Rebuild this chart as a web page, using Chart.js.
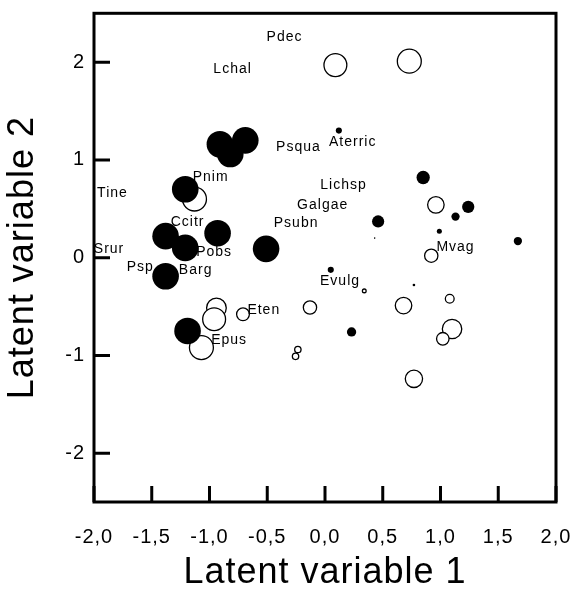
<!DOCTYPE html>
<html>
<head>
<meta charset="utf-8">
<script src="https://cdn.jsdelivr.net/npm/chart.js@4.4.0/dist/chart.umd.min.js"></script>
<style>
  html, body { margin: 0; padding: 0; background: #fff; }
  #wrap { width: 570px; height: 591px; }
</style>
</head>
<body>
<div id="wrap"><canvas id="chartLV" width="570" height="591"></canvas></div>
<script>
// Gráfico de variables latentes: círculos llenos / vacíos + nombres de especies

const xTicks = [-2, -1.5, -1, -0.5, 0, 0.5, 1, 1.5, 2];
const xTickLabels = ["-2,0", "-1,5", "-1,0", "-0,5", "0,0", "0,5", "1,0", "1,5", "2,0"];
const yTicks = [-2, -1, 0, 1, 2];
const yTickLabels = ["-2", "-1", "0", "1", "2"];

// círculos llenos (tamaño relativo, 1 = el más grande)
const filledX = [-0.91, -0.69, -0.82, -1.21, -1.38, -0.93, -1.21, -0.51, -1.38, -1.19,
                 0.12, 0.85, 1.24, 1.13, 0.46, 0.99, 0.43, 1.67, 0.05, 0.77, 0.23];
const filledY = [1.16, 1.2, 1.06, 0.7, 0.22, 0.25, 0.1, 0.09, -0.19, -0.75,
                 1.3, 0.82, 0.52, 0.42, 0.37, 0.27, 0.2, 0.17, -0.125, -0.28, -0.76];
const filledSize = [1, 1, 1, 1, 1, 1, 1, 1, 1, 1,
                    0.23, 0.5, 0.46, 0.31, 0.46, 0.19, 0.06, 0.31, 0.23, 0.1, 0.35];

// círculos vacíos
const openX = [0.09, 0.73, -1.13, -0.94, -0.96, -0.71, -0.13, -1.07, -0.235, -0.255,
               0.96, 0.92, 0.34, 0.68, 1.08, 1.1, 1.02, 0.77];
const openY = [1.97, 2.01, 0.6, -0.515, -0.63, -0.58, -0.51, -0.92, -0.94, -1.01,
               0.54, 0.02, -0.34, -0.49, -0.42, -0.73, -0.83, -1.24];
const openSize = [0.86, 0.9, 0.9, 0.74, 0.86, 0.48, 0.5, 0.9, 0.24, 0.24,
                  0.62, 0.5, 0.14, 0.62, 0.33, 0.73, 0.47, 0.65];

// nombres de especies
const spNames = ["Pdec", "Lchal", "Psqua", "Aterric", "Pnim", "Tine", "Lichsp", "Galgae", "Ccitr",
                 "Psubn", "Srur", "Pobs", "Psp", "Barg", "Mvag", "Evulg", "Eten", "Epus"];
const spX = [-0.35, -0.8, -0.23, 0.24, -0.99, -1.84, 0.16, -0.02, -1.19,
             -0.25, -1.87, -0.96, -1.6, -1.12, 1.13, 0.13, -0.53, -0.83];
const spY = [2.26, 1.93, 1.13, 1.185, 0.82, 0.66, 0.74, 0.535, 0.365,
             0.35, 0.09, 0.055, -0.1, -0.13, 0.11, -0.245, -0.54, -0.84];

const FONT = "'Liberation Sans', Arial, sans-serif";
const R_MAX = 13.3;

function toPoints(xs, ys) {
  return xs.map((x, i) => ({ x, y: ys[i] }));
}

// sin márgenes automáticos de Chart.js por las etiquetas extremas
function noEdgePadding(s) {
  s.paddingTop = 0;
  s.paddingBottom = 0;
  s.paddingLeft = 0;
  s.paddingRight = 0;
}

// marco grueso + marcas hacia adentro
const frameAndTicks = {
  id: "frameAndTicks",
  beforeDraw(chart) {
    chart.ctx.letterSpacing = "1px";
  },
  afterDraw(chart) {
    const { ctx, chartArea: a, scales } = chart;
    ctx.save();
    ctx.strokeStyle = "#000";
    ctx.lineWidth = 3;
    ctx.strokeRect(a.left, a.top, a.right - a.left, a.bottom - a.top);
    ctx.beginPath();
    xTicks.forEach((v) => {
      const px = scales.x.getPixelForValue(v);
      ctx.moveTo(px, a.bottom);
      ctx.lineTo(px, a.bottom - 16);
    });
    yTicks.forEach((v) => {
      const py = scales.y.getPixelForValue(v);
      ctx.moveTo(a.left, py);
      ctx.lineTo(a.left + 16, py);
    });
    ctx.stroke();
    ctx.restore();
  },
};

const speciesLabels = {
  id: "speciesLabels",
  afterDatasetsDraw(chart) {
    const { ctx, scales } = chart;
    ctx.save();
    ctx.fillStyle = "#000";
    ctx.font = "14px " + FONT;
    ctx.letterSpacing = "1px";
    ctx.textAlign = "center";
    ctx.textBaseline = "middle";
    spNames.forEach((name, i) => {
      ctx.fillText(name, scales.x.getPixelForValue(spX[i]), scales.y.getPixelForValue(spY[i]));
    });
    ctx.restore();
  },
};

const ctx = document.getElementById("chartLV").getContext("2d");
new Chart(ctx, {
  type: "scatter",
  data: {
    datasets: [
      {
        label: "llenos",
        data: toPoints(filledX, filledY),
        backgroundColor: "#000",
        borderColor: "#000",
        borderWidth: 0,
        pointRadius: (c) => R_MAX * filledSize[c.dataIndex],
      },
      {
        label: "vacíos",
        data: toPoints(openX, openY),
        backgroundColor: "#fff",
        borderColor: "#000",
        borderWidth: 1.3,
        pointRadius: (c) => R_MAX * openSize[c.dataIndex],
      },
    ],
  },
  options: {
    responsive: false,
    animation: false,
    events: [],
    layout: { padding: { top: 11, right: 14, left: 0, bottom: 0 } },
    plugins: {
      legend: { display: false },
      tooltip: { enabled: false },
    },
    scales: {
      x: {
        type: "linear",
        min: -2,
        max: 2,
        grid: { display: false, drawTicks: false },
        border: { display: false },
        afterBuildTicks: (s) => { s.ticks = xTicks.map((v) => ({ value: v })); },
        afterFit: (s) => { s.height = 89; noEdgePadding(s); },
        ticks: {
          padding: 23,
          autoSkip: false,
          maxRotation: 0,
          color: "#000",
          font: { family: FONT, size: 20 },
          callback: (v) => xTickLabels[xTicks.indexOf(v)],
        },
        title: {
          display: true,
          text: "Latent variable 1",
          color: "#000",
          font: { family: FONT, size: 36, lineHeight: 1 },
          padding: { top: 0, bottom: 0 },
        },
      },
      y: {
        type: "linear",
        min: -2.5,
        max: 2.5,
        grid: { display: false, drawTicks: false },
        border: { display: false },
        afterBuildTicks: (s) => { s.ticks = yTicks.map((v) => ({ value: v })); },
        afterFit: (s) => { s.width = 94; noEdgePadding(s); },
        ticks: {
          padding: 9,
          color: "#000",
          font: { family: FONT, size: 20 },
          callback: (v) => yTickLabels[yTicks.indexOf(v)],
        },
        title: {
          display: true,
          text: "Latent variable 2",
          color: "#000",
          font: { family: FONT, size: 36, lineHeight: 1 },
          padding: { top: 5, bottom: 0 },
        },
      },
    },
  },
  plugins: [frameAndTicks, speciesLabels],
});
</script>
</body>
</html>
